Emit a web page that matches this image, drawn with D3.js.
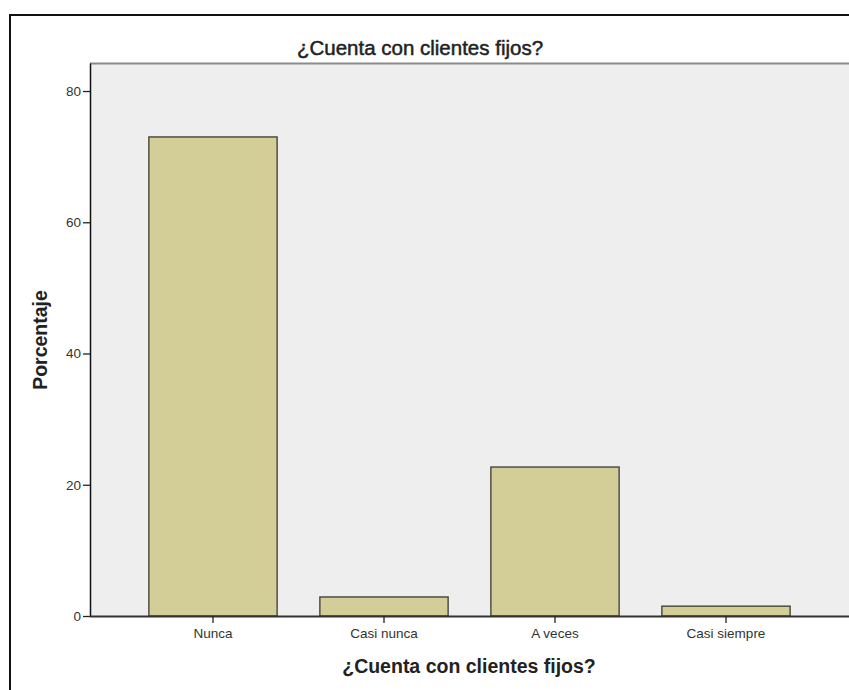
<!DOCTYPE html>
<html>
<head>
<meta charset="utf-8">
<script src="https://cdn.jsdelivr.net/npm/d3@7"></script>
<style>
html,body{margin:0;padding:0;background:#fff;}
svg{display:block;}
</style>
</head>
<body>
<script>
const categories = ["Nunca", "Casi nunca", "A veces", "Casi siempre"];
const values = [73.0, 2.9, 22.7, 1.5];
const yTicks = [0, 20, 40, 60, 80];
const chartTitle = "¿Cuenta con clientes fijos?";
const xTitle = "¿Cuenta con clientes fijos?";
const yTitle = "Porcentaje";

const W = 849, H = 690;
const FONT = "Liberation Sans, Arial, sans-serif";
const svg = d3.select("body").append("svg").attr("width", W).attr("height", H);

// outer frame
svg.append("rect").attr("x", 10).attr("y", 15).attr("width", W + 20).attr("height", H + 20)
  .attr("fill", "#fff").attr("stroke", "#111").attr("stroke-width", 2);

const plot = {left: 90, top: 63, right: 860, bottom: 616};

svg.append("rect").attr("x", plot.left).attr("y", plot.top)
  .attr("width", plot.right - plot.left).attr("height", plot.bottom - plot.top)
  .attr("fill", "#eeeeee");
svg.append("line").attr("x1", plot.left).attr("x2", plot.right).attr("y1", plot.top + 0.5).attr("y2", plot.top + 0.5)
  .attr("stroke", "#8a8a8a").attr("stroke-width", 2);

const y = d3.scaleLinear().domain([0, 84.27]).range([plot.bottom, plot.top]);
const x = d3.scaleBand().domain(categories).range([127.5, 811.5]).paddingInner(0.25).paddingOuter(0.125);

// bars
svg.append("g").selectAll("rect").data(categories).join("rect")
  .attr("x", d => x(d))
  .attr("y", (d, i) => y(values[i]))
  .attr("width", x.bandwidth())
  .attr("height", (d, i) => y(0) - y(values[i]))
  .attr("fill", "#d3ce97")
  .attr("stroke", "#3a3a30")
  .attr("stroke-width", 1.3);

// y axis
const yAxis = svg.append("g").attr("transform", `translate(${plot.left},0)`)
  .call(d3.axisLeft(y).tickValues(yTicks).tickSize(7).tickSizeOuter(0).tickPadding(2).tickFormat(d3.format("d")));
yAxis.select(".domain").attr("stroke", "#111").attr("stroke-width", 1.5);
yAxis.selectAll(".tick line").attr("stroke", "#222").attr("stroke-width", 1.3);
yAxis.selectAll("text").attr("font-family", FONT).attr("font-size", 13.5).attr("fill", "#333");

// x axis
const xAxis = svg.append("g").attr("transform", `translate(0,${plot.bottom})`)
  .call(d3.axisBottom(x).tickSize(7).tickPadding(5).tickSizeOuter(0));
xAxis.select(".domain").attr("d", `M${plot.left},0.5H${plot.right}`).attr("stroke", "#333").attr("stroke-width", 2);
xAxis.selectAll(".tick line").attr("stroke", "#222").attr("stroke-width", 1.3);
xAxis.selectAll("text").attr("font-family", FONT).attr("font-size", 13.5).attr("fill", "#333");

// titles
svg.append("text").attr("x", 420).attr("y", 55).attr("text-anchor", "middle")
  .attr("font-family", FONT).attr("font-size", 20.5)
  .attr("fill", "#222").attr("stroke", "#222").attr("stroke-width", 0.5).text(chartTitle);
svg.append("text").attr("x", 469).attr("y", 673).attr("text-anchor", "middle")
  .attr("font-family", FONT).attr("font-size", 19.5).attr("font-weight", "bold")
  .attr("fill", "#222").text(xTitle);
svg.append("text").attr("transform", "translate(47,340) rotate(-90)").attr("text-anchor", "middle")
  .attr("font-family", FONT).attr("font-size", 19.5).attr("font-weight", "bold")
  .attr("fill", "#222").text(yTitle);
</script>
</body>
</html>
